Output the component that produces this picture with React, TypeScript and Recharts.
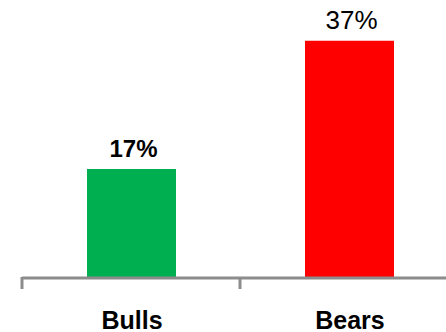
import React from "react";
import { BarChart, Bar, XAxis, YAxis, Cell, LabelList } from "recharts";

const categories = ["Bulls", "Bears"];
const values = [17, 37];

const barColors = ["#00B050", "#FF0000"];
const labelWeights = ["bold", "normal"];
const labelSizes = [24, 26];

const data = categories.map((name, i) => ({ name, value: values[i] }));

const FONT = "'Liberation Sans', Arial, sans-serif";
const AXIS_GRAY = "#8C8C8C";

const CustomTick = (props: any) => {
  const { x, y, payload, index, visibleTicksCount } = props;
  const half = payload.offset || 0;
  const isLast = index === (visibleTicksCount ?? categories.length) - 1;
  return (
    <g>
      <line x1={x - half} x2={x - half} y1={y - 1} y2={y + 11} stroke={AXIS_GRAY} strokeWidth={3} />
      {isLast && (
        <line x1={x + half} x2={x + half} y1={y - 1} y2={y + 11} stroke={AXIS_GRAY} strokeWidth={3} />
      )}
      <text x={x + 1} y={y + 51} textAnchor="middle" fontFamily={FONT} fontWeight="bold" fontSize={25} fill="#000">
        {payload.value}
      </text>
    </g>
  );
};

const ValueLabel = (props: any) => {
  const { x, y, width, value, index } = props;
  return (
    <text
      x={x + width / 2 + 2}
      y={y - 12}
      textAnchor="middle"
      fontFamily={FONT}
      fontWeight={labelWeights[index]}
      fontSize={labelSizes[index]}
      fill="#000"
    >
      {`${value}%`}
    </text>
  );
};

export default function App() {
  return (
    <div style={{ position: "absolute", left: 0, top: 0, width: 446, height: 332, overflow: "hidden", background: "#fff" }}>
      <BarChart
        width={480}
        height={332}
        data={data}
        margin={{ top: 21.6, right: 22, bottom: 0, left: 22 }}
      >
        <XAxis
          dataKey="name"
          axisLine={{ stroke: AXIS_GRAY, strokeWidth: 3 }}
          tickLine={false}
          tickSize={0}
          tickMargin={0}
          height={54}
          interval={0}
          tick={<CustomTick />}
        />
        <YAxis hide domain={[0, 40]} />
        <Bar dataKey="value" barSize={89} isAnimationActive={false}>
          {data.map((d, i) => (
            <Cell key={d.name} fill={barColors[i]} />
          ))}
          <LabelList dataKey="value" content={<ValueLabel />} />
        </Bar>
      </BarChart>
    </div>
  );
}
